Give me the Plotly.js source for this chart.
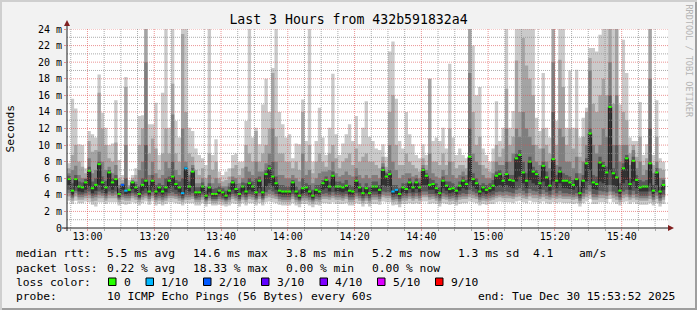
<!DOCTYPE html>
<html><head><meta charset="utf-8">
<script src="https://cdn.plot.ly/plotly-3.0.1.min.js"></script>
<style>html,body{margin:0;padding:0;background:#f2f2f2;overflow:hidden}</style>
</head><body><div id="chart" style="width:697px;height:310px"></div>
<script>
// ---- data (one value per 60 s step, 10 sorted pings per step; ms) ----
const startTime = Date.UTC(2025, 11, 30, 12, 54, 0);
const stepMinutes = 1;

const median = [5.9,4.5,5.9,5.0,4.9,5.5,6.9,4.8,5.2,7.7,
 5.5,4.9,6.7,5.5,5.9,4.1,5.2,4.5,4.6,5.5,
 4.9,4.1,5.2,5.7,4.4,5.7,4.4,4.9,4.4,4.9,
 5.7,6.2,5.3,4.9,4.2,7.2,5.0,6.8,4.3,4.3,
 5.0,3.9,4.9,4.1,4.1,4.5,4.3,3.9,4.5,5.5,
 4.7,4.1,5.0,4.4,5.4,5.0,4.3,5.7,4.3,6.5,
 7.2,6.2,5.4,4.5,4.4,4.4,4.4,5.5,4.4,3.9,
 4.8,4.9,4.4,3.9,4.6,4.4,5.4,5.8,5.0,6.3,
 5.0,5.0,4.9,5.1,4.5,4.4,5.7,4.9,4.2,4.8,
 4.2,5.0,5.0,4.6,7.0,6.2,6.5,4.4,4.6,4.1,
 4.9,4.7,5.5,4.9,5.5,4.9,7.0,6.3,5.2,5.3,
 4.8,4.2,5.7,5.1,4.7,4.8,4.5,5.1,5.7,5.3,
 8.6,5.9,5.4,4.4,4.9,4.6,4.8,5.1,6.3,6.5,
 5.7,6.5,5.8,5.7,8.4,8.8,6.7,5.7,8.0,6.8,
 6.5,5.4,7.5,6.1,5.1,8.3,5.7,6.8,5.7,5.7,
 5.5,5.2,5.9,4.2,5.7,7.8,11.4,5.5,5.3,7.9,
 7.5,6.7,14.6,6.6,6.1,4.5,7.2,8.4,5.3,8.1,
 5.8,4.9,5.0,5.0,7.8,4.5,6.7,4.4,5.2];

const lossCount = [0,0,0,0,0,0,0,0,0,0,
 0,0,0,0,0,0,2,1,0,0,
 0,0,0,0,0,0,0,0,0,0,
 0,0,0,0,1,1,0,0,0,0,
 0,0,0,0,0,0,0,0,0,0,
 0,0,0,0,0,0,0,0,0,0,
 0,0,0,0,0,0,0,0,0,0,
 0,0,0,0,0,0,0,0,0,0,
 0,0,0,0,0,0,0,0,0,0,
 0,0,0,0,0,0,0,1,1,0,
 0,0,0,0,0,0,0,0,0,0,
 0,0,0,0,0,0,0,0,0,0,
 0,0,0,0,0,0,0,0,0,0,
 0,0,0,0,0,0,0,0,0,0,
 0,0,0,0,0,0,0,0,0,0,
 0,0,0,0,0,0,0,0,0,0,
 0,0,0,0,0,0,0,0,0,0,
 0,0,0,0,0,0,0,0,0];

const ping10 = [7.8,15.6,14.4,10.1,10.0,7.2,11.7,11.3,10.9,18.5,
 13.9,12.1,10.0,10.2,15.4,8.2,6.4,18.2,5.8,6.4,
 7.2,13.5,13.6,30,12.5,12.5,15.1,8.8,16.3,30,
 12.1,30,12.9,10.9,30,30,12.1,11.7,9.6,8.8,
 8.4,7.6,30,8.8,10.7,6.8,6.4,6.8,7.2,8.8,
 9.0,8.0,8.0,12.9,30,10.9,12.1,10.1,14.9,18.0,
 14.0,19.3,30,14.0,12.5,10.9,11.3,8.4,10.2,10.1,
 15.5,10.5,30,8.0,10.5,14.5,10.9,8.8,12.1,18.6,
 11.3,8.8,10.2,11.3,12.5,10.5,13.5,10.1,12.1,15.3,
 11.0,10.5,9.6,9.4,10.1,8.6,21.3,22.5,15.6,10.5,
 9.6,14.0,11.3,10.1,8.8,8.4,10.1,8.8,18.0,10.5,
 10.9,10.5,12.1,9.6,19.8,10.9,8.8,9.6,8.8,8.4,
 30,22.0,16.0,17.0,9.6,8.8,8.0,9.6,15.3,10.5,
 12.1,30,12.1,14.1,30,30,30,30,30,30,
 13.3,11.7,18.7,12.1,10.9,30,12.9,30,30,12.1,
 19.0,12.1,19.1,10.9,13.3,14.5,21.7,21.7,21.3,23.3,
 30,30,30,30,30,14.9,22.7,18.7,10.9,10.5,
 10.5,15.2,8.8,10.1,30,8.8,15.4,8.4,8.0];

const ping9 = [7.2,8.8,10.0,8.0,7.4,6.6,10.5,9.2,9.4,16.3,
 12.0,10.0,8.4,8.0,10.3,6.0,5.8,17.0,5.2,6.0,
 6.4,10.0,12.0,30,9.0,10.8,9.6,7.0,9.0,12.0,
 9.0,17.4,9.0,8.0,23.4,14.0,9.0,8.6,7.0,6.4,
 7.2,6.0,9.0,7.0,8.0,6.0,5.6,5.8,6.2,7.2,
 7.6,6.4,7.2,10.0,9.0,8.0,11.7,8.0,9.0,10.0,
 12.0,18.7,11.0,9.0,9.0,8.0,8.0,7.2,8.0,7.0,
 14.0,8.0,10.0,6.6,8.0,9.0,8.0,7.4,9.0,10.0,
 8.4,7.2,8.0,8.4,9.0,7.6,9.6,8.0,8.6,9.0,
 8.0,8.0,7.6,7.2,8.6,7.4,14.0,16.0,10.0,7.6,
 7.6,9.0,8.0,7.6,7.2,6.8,8.4,7.6,18.0,8.0,
 8.0,7.6,9.0,7.6,12.0,8.0,7.2,7.6,7.6,7.2,
 30,14.0,10.0,11.0,7.6,7.2,6.8,8.0,10.0,8.6,
 9.6,16.8,10.0,11.0,20.2,14.0,22.9,19.6,18.0,16.0,
 10.0,9.6,12.0,10.0,9.0,30,10.0,20.3,17.0,10.0,
 12.0,9.6,12.0,8.6,11.0,14.0,20.5,15.0,14.0,16.0,
 18.0,16.0,24.0,15.0,30,10.0,14.0,13.0,9.0,10.0,
 8.6,11.0,7.6,8.4,30,7.6,11.0,7.2,7.0];

const ping8 = [6.6,7.0,7.5,6.4,6.0,6.0,8.4,6.6,7.0,9.2,
 8.0,7.0,7.4,6.6,7.6,5.2,5.4,10.0,4.9,5.8,
 5.6,7.0,8.0,20.0,6.4,8.0,6.6,6.0,6.4,8.0,
 7.2,13.7,7.0,6.4,12.0,8.0,6.4,7.6,5.4,5.4,
 6.0,5.0,6.4,5.4,6.0,5.4,5.0,5.0,5.4,6.2,
 6.0,5.4,6.0,7.4,6.8,6.4,8.0,6.8,6.8,7.8,
 9.0,12.0,8.0,6.4,6.4,6.0,6.0,6.4,6.0,5.6,
 9.0,6.4,7.0,5.4,6.0,6.6,6.8,6.8,7.0,8.0,
 6.6,6.2,6.4,6.8,6.4,6.2,7.2,6.4,6.0,6.4,
 6.0,6.4,6.4,6.0,7.8,6.8,10.0,8.0,7.0,6.0,
 6.4,6.6,6.6,6.2,6.4,6.0,7.6,7.0,9.0,6.6,
 6.2,6.0,7.0,6.4,8.0,6.4,6.0,6.4,6.8,6.4,
 18.7,9.0,8.0,7.6,6.4,6.0,6.0,6.6,8.0,7.6,
 7.6,12.0,8.0,9.0,12.0,11.0,14.0,12.0,11.0,10.0,
 8.0,7.6,9.6,8.0,7.2,20.0,7.6,12.0,11.0,8.0,
 8.0,7.2,8.6,6.6,8.0,10.0,19.0,10.0,9.0,10.0,
 12.0,11.0,20.0,10.0,16.0,8.0,10.0,10.0,7.6,9.4,
 7.2,8.0,6.4,7.0,18.0,6.6,8.0,6.0,6.0];

const ping7 = [6.3,5.4,6.4,5.6,5.5,5.9,7.4,5.6,6.0,8.0,
 6.2,5.7,7.0,6.0,6.4,4.8,5.3,6.0,4.7,5.6,
 5.3,5.0,6.0,10.0,5.2,6.4,5.2,5.4,5.2,6.0,
 6.2,8.0,5.8,5.6,6.0,7.4,5.6,7.2,4.9,4.9,
 5.5,4.5,5.4,4.7,4.8,5.0,4.8,4.5,5.0,5.8,
 5.3,4.8,5.5,5.4,6.0,5.6,6.0,6.2,5.0,7.0,
 7.6,8.0,6.2,5.2,5.2,5.0,5.0,5.8,5.0,4.6,
 6.0,5.4,5.2,4.6,5.2,5.2,5.8,6.2,5.6,6.8,
 5.6,5.6,5.4,5.8,5.2,5.0,6.2,5.4,4.9,5.4,
 4.9,5.6,5.6,5.2,7.4,6.6,7.0,5.2,5.2,4.8,
 5.4,5.4,6.0,5.4,6.0,5.4,7.2,6.6,6.0,5.8,
 5.4,4.9,6.2,5.6,5.6,5.4,5.0,5.6,6.2,5.8,
 12.0,6.6,6.0,5.2,5.4,5.2,5.4,5.8,6.8,7.0,
 6.2,8.0,6.4,6.4,9.0,9.4,8.0,6.6,8.6,7.4,
 7.0,6.2,8.0,6.8,5.8,14.0,6.4,7.4,6.6,6.4,
 6.2,5.8,6.6,5.0,6.4,8.4,12.0,6.4,6.2,8.6,
 8.0,7.4,16.0,7.2,10.0,5.4,7.8,8.8,6.0,8.6,
 6.4,5.8,5.6,5.8,12.0,5.2,7.2,5.0,5.8];

const ping5 = [5.2,4.0,5.0,4.4,4.3,4.6,5.0,4.2,4.5,5.2,
 4.6,4.2,5.0,4.6,5.0,3.8,4.6,4.1,4.2,4.7,
 4.3,3.8,4.5,4.8,4.0,4.9,4.0,4.3,4.0,4.3,
 4.8,5.0,4.6,4.3,3.9,4.6,4.4,5.0,3.9,4.0,
 4.4,3.6,4.3,3.8,3.8,4.1,3.9,3.6,4.0,4.6,
 4.2,3.8,4.4,4.0,4.6,4.4,3.9,4.8,3.9,5.0,
 5.4,5.0,4.6,4.1,4.0,4.0,4.0,4.6,4.0,3.6,
 4.2,4.3,4.0,3.6,4.1,4.0,4.6,4.8,4.4,5.0,
 4.4,4.4,4.3,4.5,4.0,4.0,4.8,4.3,3.9,4.2,
 3.9,4.4,4.4,4.1,5.2,5.0,5.0,4.0,4.1,3.8,
 4.3,4.2,4.7,4.3,4.7,4.3,5.2,5.2,4.6,4.6,
 4.2,3.9,4.8,4.5,4.2,4.3,4.0,4.5,4.8,4.6,
 5.6,5.0,4.7,4.0,4.3,4.1,4.3,4.5,5.0,5.2,
 4.9,5.2,4.9,4.8,5.6,6.2,5.4,4.8,5.8,5.4,
 5.2,4.7,5.6,5.0,4.5,5.6,4.8,5.4,4.8,4.8,
 4.7,4.6,4.9,3.9,4.8,5.6,7.0,4.7,4.6,5.6,
 5.4,5.2,7.0,5.2,5.0,4.1,5.4,5.8,4.6,5.6,
 4.8,4.4,4.4,4.4,5.4,4.1,5.2,4.0,4.6];

const ping4 = [4.6,3.8,4.5,4.0,4.0,4.2,4.4,3.9,4.0,4.4,
 4.2,3.9,4.4,4.2,4.4,3.6,4.0,3.9,3.9,4.2,
 4.0,3.6,4.0,4.2,3.8,4.3,3.7,3.9,3.7,3.9,
 4.2,4.3,4.1,3.9,3.6,4.0,4.0,4.2,3.6,3.7,
 4.0,3.4,3.9,3.5,3.5,3.8,3.6,3.4,3.7,4.1,
 3.9,3.5,4.0,3.7,4.1,4.0,3.6,4.2,3.6,4.3,
 4.6,4.4,4.1,3.8,3.7,3.7,3.7,4.1,3.7,3.4,
 3.9,3.9,3.7,3.4,3.8,3.7,4.1,4.2,4.0,4.3,
 4.0,4.0,3.9,4.1,3.7,3.7,4.2,3.9,3.6,3.9,
 3.6,4.0,4.0,3.8,4.4,4.3,4.3,3.7,3.8,3.5,
 3.9,3.9,4.2,3.9,4.2,3.9,4.4,4.4,4.1,4.1,
 3.9,3.6,4.2,4.0,3.8,3.9,3.7,4.0,4.2,4.1,
 4.6,4.4,4.2,3.7,3.9,3.8,3.9,4.0,4.3,4.4,
 4.3,4.4,4.3,4.2,4.6,4.8,4.5,4.2,4.7,4.5,
 4.4,4.1,4.6,4.3,4.0,4.6,4.2,4.5,4.2,4.2,
 4.1,4.0,4.2,3.6,4.2,4.6,5.2,4.1,4.0,4.5,
 4.4,4.3,5.2,4.4,4.2,3.7,4.4,4.6,4.0,4.5,
 4.1,3.9,3.9,3.9,4.4,3.7,4.3,3.6,4.0];

const ping3 = [4.2,3.6,4.2,3.7,3.7,3.9,4.0,3.6,3.7,4.0,
 3.9,3.6,4.0,3.9,4.0,3.4,3.7,3.6,3.6,3.9,
 3.7,3.4,3.7,3.9,3.5,3.9,3.4,3.6,3.4,3.6,
 3.9,3.9,3.8,3.6,3.4,3.7,3.7,3.8,3.4,3.4,
 3.7,3.2,3.6,3.3,3.3,3.5,3.4,3.2,3.4,3.8,
 3.6,3.3,3.7,3.4,3.8,3.7,3.4,3.8,3.4,3.9,
 4.1,4.0,3.8,3.5,3.4,3.4,3.4,3.8,3.4,3.2,
 3.6,3.6,3.4,3.2,3.5,3.4,3.8,3.8,3.7,3.9,
 3.7,3.7,3.6,3.8,3.4,3.4,3.8,3.6,3.3,3.6,
 3.3,3.7,3.7,3.5,4.0,3.9,3.9,3.4,3.5,3.2,
 3.6,3.6,3.8,3.6,3.8,3.6,4.0,4.0,3.7,3.8,
 3.6,3.3,3.8,3.7,3.5,3.6,3.4,3.7,3.8,3.8,
 4.1,4.0,3.8,3.4,3.6,3.5,3.6,3.7,3.9,4.0,
 3.9,4.0,3.9,3.8,4.1,4.2,4.0,3.8,4.2,4.0,
 4.0,3.8,4.1,3.9,3.7,4.0,3.8,4.0,3.8,3.8,
 3.8,3.7,3.8,3.3,3.8,4.1,4.4,3.7,3.7,4.0,
 4.0,3.9,4.4,4.0,3.8,3.4,4.0,4.1,3.7,4.0,
 3.7,3.6,3.6,3.6,3.9,3.4,3.9,3.3,3.7];

const ping2 = [3.8,3.3,3.8,3.4,3.4,3.6,3.6,3.2,3.3,3.6,
 3.6,3.3,3.6,3.6,3.6,3.1,3.4,3.3,3.3,3.6,
 3.4,3.1,3.4,3.6,3.2,3.6,3.1,3.3,3.1,3.3,
 3.6,3.6,3.5,3.3,3.1,3.4,3.4,3.5,3.1,3.1,
 3.4,2.9,3.3,3.0,3.0,3.2,3.1,2.9,3.1,3.5,
 3.3,3.0,3.4,3.1,3.5,3.4,3.1,3.5,3.1,3.6,
 3.7,3.6,3.5,3.2,3.1,3.1,3.1,3.5,3.1,2.9,
 3.3,3.3,3.1,2.9,3.2,3.1,3.5,3.5,3.4,3.6,
 3.4,3.4,3.3,3.5,3.1,3.1,3.5,3.3,3.0,3.3,
 3.0,3.4,3.4,3.2,3.7,3.6,3.6,3.1,3.2,2.9,
 3.3,3.3,3.5,3.3,3.5,3.3,3.7,3.7,3.4,3.5,
 3.3,3.0,3.5,3.4,3.2,3.3,3.1,3.4,3.5,3.5,
 3.7,3.6,3.5,3.1,3.3,3.2,3.3,3.4,3.6,3.7,
 3.6,3.6,3.6,3.5,3.7,3.8,3.6,3.5,3.8,3.6,
 3.6,3.5,3.7,3.5,3.4,3.6,3.5,3.6,3.5,3.5,
 3.5,3.4,3.5,3.0,3.5,3.7,4.0,3.4,3.4,3.6,
 3.6,3.5,4.0,3.6,3.4,3.1,3.6,3.7,3.4,3.6,
 3.4,3.3,3.3,3.3,3.5,3.1,3.5,3.0,3.4];

const ping1 = [3.3,2.9,3.3,3.0,3.0,3.2,3.1,2.8,2.6,3.1,
 3.1,2.9,3.1,3.1,3.1,2.7,2.9,2.8,2.9,3.1,
 3.0,2.7,3.0,3.2,2.8,3.2,2.7,2.9,2.7,2.9,
 3.1,3.1,3.0,2.9,2.7,3.0,3.0,3.0,2.7,2.7,
 3.0,2.6,2.9,2.7,2.7,2.8,2.7,2.6,2.7,3.0,
 2.9,2.6,3.0,2.7,3.0,3.0,2.7,3.0,2.7,3.1,
 3.2,3.1,3.0,2.8,2.7,2.7,2.7,3.0,2.7,2.5,
 2.9,2.9,2.7,2.5,2.8,2.7,3.0,3.0,2.9,3.1,
 2.9,2.9,2.9,3.0,2.7,2.7,3.0,2.9,2.6,2.9,
 2.6,2.9,2.9,2.8,3.2,3.1,3.1,2.7,2.8,2.5,
 2.9,2.9,3.0,2.9,3.0,2.9,3.2,3.2,2.9,3.0,
 2.9,2.6,3.0,2.9,2.8,2.9,2.7,2.9,3.0,3.0,
 3.2,3.1,3.0,2.7,2.9,2.8,2.9,2.9,3.1,3.2,
 3.1,3.1,3.1,3.0,3.2,3.3,3.1,3.0,3.3,3.1,
 3.1,3.0,3.2,3.0,2.9,3.1,3.0,3.1,3.0,3.0,
 3.0,2.9,3.0,2.6,3.0,3.2,3.5,2.9,2.9,3.1,
 3.1,3.0,3.5,3.1,2.9,2.7,3.1,3.2,2.9,3.1,
 2.9,2.8,2.8,2.8,3.0,2.7,3.0,2.6,2.9];

// axis ticks
const yTickVals = [0,2,4,6,8,10,12,14,16,18,20,22,24];
const yTickText = ["0","2 m","4 m","6 m","8 m","10 m","12 m","14 m","16 m","18 m","20 m","22 m","24 m"];

// legend texts
const lossLabels = ["0","1/10","2/10","3/10","4/10","5/10","9/10"];
const lossColors = ["#26ff00","#00b8ff","#0059ff","#5e00ff","#7e00ff","#dd00ff","#ff0000"];
const statsRtt = ["5.5 ms avg","14.6 ms max","3.8 ms min","5.2 ms now","1.3 ms sd","4.1","am/s"];
const statsLoss = ["0.22 % avg","18.33 % max","0.00 % min","0.00 % now"];
const probeText = "10 ICMP Echo Pings (56 Bytes) every 60s";
const endText = "end: Tue Dec 30 15:53:52 2025";

// ---- build ----
const mono = "'DejaVu Sans Mono', monospace";
const n = median.length;
function fmt(ms){ return new Date(ms).toISOString().slice(0,19).replace('T',' '); }
const edges = Array.from({length:n+1}, (_,i)=>fmt(startTime + i*stepMinutes*60000));
const ext = a => a.concat([a[a.length-1]]);

const lows = [ping1, ping2, ping3, ping4, ping5];
const highs = [ping10, ping9, ping8, ping7, median];
const smokeColors = ['#cacaca','#a4a4a4','#7e7e7e','#585858','#323232'];

const traces = [];
for (let k=0;k<5;k++){
  traces.push({x:edges, y:ext(lows[k]), type:'scatter', mode:'lines', line:{width:0, shape:'hv'}, hoverinfo:'skip', showlegend:false});
  traces.push({x:edges, y:ext(highs[k]), type:'scatter', mode:'lines', line:{width:0, shape:'hv'}, fill:'tonexty', fillcolor:smokeColors[k], hoverinfo:'skip', showlegend:false});
}
traces.push({x:edges, y:ext(median), type:'scatter', mode:'lines', line:{color:'#202020', width:1, shape:'hv'}, hoverinfo:'skip', showlegend:false});

// loss-coloured median markers (one segment per step, grouped by colour)
function lossIndex(c){ if(c<=0) return 0; if(c<=4) return c; if(c<=8) return 5; return 6; }
const segX = lossColors.map(()=>[]), segY = lossColors.map(()=>[]);
median.forEach((v,i)=>{
  const k = lossIndex(lossCount[i]);
  segX[k].push(edges[i], edges[i+1], null);
  segY[k].push(v, v, null);
});
lossColors.forEach((c,k)=>{
  if (segX[k].length) traces.push({x:segX[k], y:segY[k], type:'scatter', mode:'lines', connectgaps:false,
    line:{color:c, width:2}, hoverinfo:'skip', showlegend:false});
});

// pixel helpers for decoration
const PL=67, PR=668, PT=29, PB=228, PW=PR-PL, PH=PB-PT;
const px2x = px => (px-PL)/PW;
const px2y = py => (PB-py)/PH;

const shapes = [];
// grid (drawn on top, like rrdtool)
const gridMinor = 'rgba(143,143,143,0.75)', gridMajor = 'rgba(222,79,79,0.6)';
for (let v=1; v<=24; v++){
  shapes.push({type:'line', layer:'above', xref:'paper', yref:'y', x0:0, x1:1, y0:v, y1:v,
    line:{color: v%2===0 ? gridMajor : gridMinor, width:1, dash:'1px,1px'}});
}
const gridStart = Date.UTC(2025,11,30,12,55,0);
for (let m=0; m<=180; m+=5){
  const t = gridStart + m*60000;
  if (t > startTime + (n+1)*60000) break;
  const mins = new Date(t).getUTCMinutes();
  shapes.push({type:'line', layer:'above', xref:'x', yref:'paper', x0:fmt(t), x1:fmt(t), y0:0, y1:1,
    line:{color: mins%20===0 ? gridMajor : gridMinor, width:1, dash:'1px,1px'}});
}
// axes + arrows
shapes.push({type:'line', layer:'above', xref:'paper', yref:'paper', x0:px2x(62), x1:px2x(669), y0:0, y1:0, line:{color:'#1f1f1f', width:1}});
shapes.push({type:'line', layer:'above', xref:'paper', yref:'paper', x0:0, x1:0, y0:px2y(231), y1:px2y(25), line:{color:'#1f1f1f', width:1}});
shapes.push({type:'path', layer:'above', xref:'paper', yref:'paper',
  path:`M ${px2x(64)} ${px2y(26)} L ${px2x(70)} ${px2y(26)} L ${px2x(67)} ${px2y(20)} Z`, fillcolor:'#801f1f', line:{width:0}});
shapes.push({type:'path', layer:'above', xref:'paper', yref:'paper',
  path:`M ${px2x(668)} ${px2y(225)} L ${px2x(668)} ${px2y(231)} L ${px2x(674)} ${px2y(228)} Z`, fillcolor:'#801f1f', line:{width:0}});
// frame shading
const rectPx = (x0,y0,x1,y1,c)=>({type:'rect', layer:'above', xref:'paper', yref:'paper', x0:px2x(x0), x1:px2x(x1), y0:px2y(y1), y1:px2y(y0), fillcolor:c, line:{width:0}});
shapes.push(rectPx(0,0,697,2,'#cfcfcf'));
shapes.push(rectPx(0,0,2,310,'#cfcfcf'));
shapes.push(rectPx(695,2,697,310,'#9e9e9e'));
shapes.push(rectPx(2,308,697,310,'#9e9e9e'));

// legend boxes
const boxLeft = [108.5,146,203.5,261.5,320,377.5,435.5];
boxLeft.forEach((bx,i)=>{
  shapes.push({type:'rect', layer:'above', xref:'paper', yref:'paper', x0:px2x(bx), x1:px2x(bx+7.5), y0:px2y(285.5), y1:px2y(278), fillcolor:lossColors[i], line:{color:'#000', width:1}});
});

const annotations = [];
const LF = 11.3;
function txt(s, px, py, size, extra){
  return Object.assign({text:s, xref:'paper', yref:'paper', x:px2x(px), y:px2y(py), xanchor:'left', yanchor:'middle',
    showarrow:false, borderpad:0, borderwidth:0, font:{family:mono, size:size||LF, color:'#000'}}, extra||{});
}
annotations.push(txt('median rtt:', 16, 254));
const rttX = [107,193,286,372,458,533,579];
statsRtt.forEach((s,i)=>annotations.push(txt(s, rttX[i], 254)));
annotations.push(txt('packet loss:', 16, 268));
const lossX = [107,193,286,372];
statsLoss.forEach((s,i)=>annotations.push(txt(s, lossX[i], 268)));
annotations.push(txt('loss color:', 16, 282));
lossLabels.forEach((s,i)=>annotations.push(txt(s, boxLeft[i]+15, 282)));
annotations.push(txt('probe:', 16, 296));
annotations.push(txt(probeText, 107, 296));
annotations.push(txt(endText, 478, 296));
annotations.push(txt('Seconds', 10, 128.5, LF, {xanchor:'center', textangle:-90}));
annotations.push(txt('RRDTOOL / TOBI OETIKER', 688.5, 61, 8.5, {xanchor:'center', textangle:90, font:{family:mono, size:8.5, color:'#b4b4b4'}}));

const layout = {
  width:697, height:310,
  margin:{l:PL, r:697-PR, t:PT, b:310-PB, pad:0},
  paper_bgcolor:'#f2f2f2', plot_bgcolor:'#ffffff',
  showlegend:false,
  title:{text:'Last 3 Hours from 432b591832a4', font:{family:mono, size:13.2, color:'#000'},
    x:0.5, xref:'container', xanchor:'center', y:1-19/310, yref:'container', yanchor:'middle'},
  xaxis:{type:'date', range:[fmt(startTime-8000), fmt(startTime-8000+180*60000)],
    tick0:'2025-12-30 13:00:00', dtick:20*60000, tickformat:'%H:%M',
    showgrid:false, zeroline:false, showline:false,
    ticks:'outside', ticklen:2, tickcolor:gridMajor, ticklabelstandoff:-3,
    minor:{dtick:5*60000, tick0:'2025-12-30 13:00:00', ticks:'outside', ticklen:2, tickcolor:gridMinor, showgrid:false},
    tickfont:{family:mono, size:10, color:'#000'}, fixedrange:true},
  yaxis:{range:[0,24], tickvals:yTickVals, ticktext:yTickText,
    showgrid:false, zeroline:false, showline:false,
    ticks:'outside', ticklen:2, tickcolor:gridMajor, ticklabelstandoff:0,
    tickfont:{family:mono, size:10, color:'#000'}, fixedrange:true},
  shapes:shapes, annotations:annotations
};

Plotly.newPlot('chart', traces, layout, {staticPlot:true, displayModeBar:false});
</script>
</body></html>
